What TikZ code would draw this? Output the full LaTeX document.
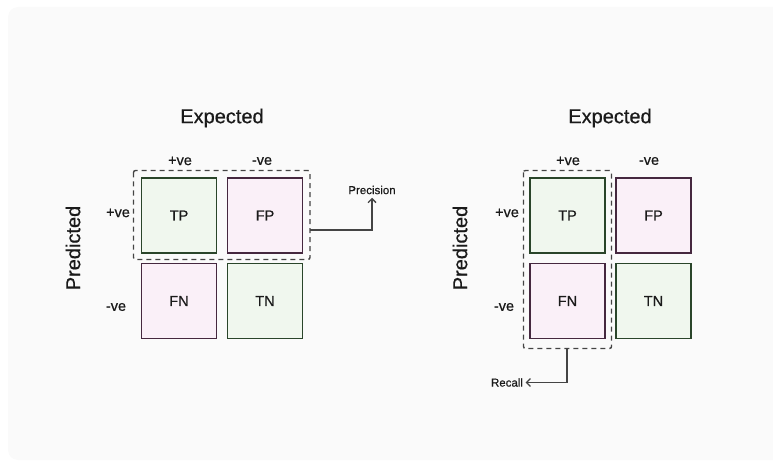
\documentclass[tikz,border=0pt]{standalone}
\usepackage{fontspec}
\setmainfont{Liberation Sans}
\newfontfamily\medfont[FakeBold=0.6]{Liberation Sans}
\usetikzlibrary{arrows.meta}
\definecolor{panel}{HTML}{FAFAFA}
\definecolor{posfill}{HTML}{F0F7EE}
\definecolor{posline}{HTML}{2A452A}
\definecolor{negfill}{HTML}{FAF0F8}
\definecolor{negline}{HTML}{45283F}
\definecolor{ink}{HTML}{1A1A1A}
\definecolor{dashink}{HTML}{444444}
\tikzset{
  cell/.style={minimum width=75pt, minimum height=75pt, line width=1.8pt, inner sep=0pt,
    font=\medfont\fontsize{14.5}{14.5}\selectfont, text=ink},
  poscell/.style={cell, draw=posline, fill=posfill},
  negcell/.style={cell, draw=negline, fill=negfill},
  title/.style={font=\medfont\fontsize{20}{20}\selectfont, text=ink},
  axislabel/.style={font=\medfont\fontsize{14.5}{14.5}\selectfont, text=ink},
  metric/.style={font=\medfont\fontsize{11.5}{11.5}\selectfont, text=ink},
  group/.style={draw=dashink, line width=1.4pt, dash pattern=on 5pt off 4pt, rounded corners=2pt},
  link/.style={draw=dashink, line width=1.3pt, -{Straight Barb[length=4pt,width=8pt]}}
}
\begin{document}
\begin{tikzpicture}[x=1pt,y=-1pt]
\useasboundingbox (0,0) rectangle (773,465);
\fill[panel, rounded corners=10pt] (8,7) rectangle (790,460);

% ---- left matrix: precision ----
\node[poscell] (ltp) at (179,215.5) {TP};
\node[negcell] (lfp) at (265,215.5) {FP};
\node[negcell] (lfn) at (179,301) {FN};
\node[poscell] (ltn) at (265,301) {TN};
\node[title] (lexp) at (222,118) {Expected};
\node[axislabel] (lcp) at (180,161) {+ve};
\node[axislabel] (lcn) at (262,161) {-ve};
\node[axislabel] (lrp) at (118,213) {+ve};
\node[axislabel] (lrn) at (116,307) {-ve};
\node[title, rotate=90] (lpred) at (73,248) {Predicted};
\draw[group] (133.5,170.5) rectangle (310,259.5);
\coordinate (lgrp) at (310,230);
\node[metric] (prec) at (372,190) {Precision};
\draw[link] (lgrp) -| (prec.south);

% ---- right matrix: recall ----
\node[poscell] (rtp) at (567.5,215.5) {TP};
\node[negcell] (rfp) at (653.5,215.5) {FP};
\node[negcell] (rfn) at (567.5,301) {FN};
\node[poscell] (rtn) at (653.5,301) {TN};
\node[title] (rexp) at (610,118) {Expected};
\node[axislabel] (rcp) at (568,161) {+ve};
\node[axislabel] (rcn) at (649,161) {-ve};
\node[axislabel] (rrp) at (507,213) {+ve};
\node[axislabel] (rrn) at (504,307) {-ve};
\node[title, rotate=90] (rpred) at (460,248) {Predicted};
\draw[group] (523.5,170.5) rectangle (611.5,348.5);
\coordinate (rgrp) at (567,348.5);
\node[metric] (rec) at (507,382.5) {Recall};
\draw[link] (rgrp) |- ([xshift=-1pt]rec.east);
\end{tikzpicture}
\end{document}
